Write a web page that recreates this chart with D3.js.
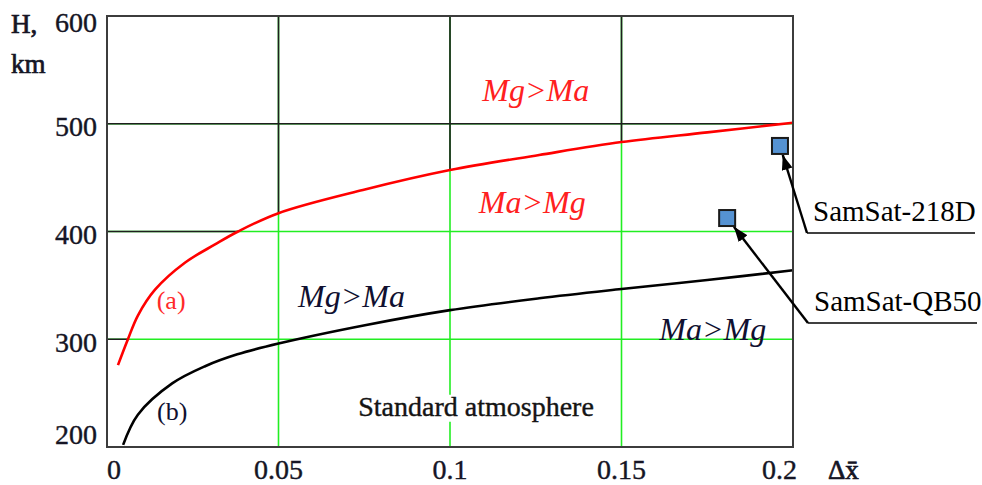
<!DOCTYPE html>
<html>
<head>
<meta charset="utf-8">
<script src="https://cdn.jsdelivr.net/npm/d3@7"></script>
<style>
	body { margin: 0; background: #fff; }
	#chart-area { width: 982px; height: 485px; }
	svg text { font-family: "Liberation Serif", Tinos, "Times New Roman", "DejaVu Serif", serif; }
</style>
</head>
<body>
<div id="chart-area"></div>
<script>

// Curve (a): boundary Mg>Ma / Ma>Mg (red)
let curveAX = [0.0032, 0.0061, 0.009, 0.014, 0.0227, 0.0315, 0.0382, 0.05, 0.0746, 0.1, 0.126, 0.15, 0.175, 0.2];
let curveAH = [276, 300, 322, 346, 371, 388, 400, 417, 438.5, 457, 471, 483, 492, 501];

// Curve (b): boundary for standard atmosphere (black)
let curveBX = [0.0047, 0.009, 0.019, 0.0286, 0.038, 0.05, 0.0752, 0.1, 0.126, 0.15, 0.175, 0.2];
let curveBH = [202, 230, 259, 275, 286, 296, 313, 327, 338, 346.6, 355, 364];

// Satellites
let satNames = ["SamSat-218D", "SamSat-QB50"];
let satX = [0.1962, 0.1808];
let satH = [479.4, 412.5];

// Ticks
let xTicks = [0, 0.05, 0.1, 0.15, 0.2];
let xTickLabels = ["0", "0.05", "0.1", "0.15", "0.2"];
let yTicks = [200, 300, 400, 500, 600];
let yTickLabels = ["200", "300", "400", "500", "600"];


class RegimeChart {

constructor(parentElement) {
	this.parentElement = parentElement;
	this.curveA = curveAX.map((x, i) => ({x: x, h: curveAH[i]}));
	this.curveB = curveBX.map((x, i) => ({x: x, h: curveBH[i]}));
	this.sats = satNames.map((n, i) => ({name: n, x: satX[i], h: satH[i]}));
}

	initVis() {
		let vis = this;

		vis.margin = {top: 16, right: 189, bottom: 38, left: 107};
		vis.width = 982 - vis.margin.left - vis.margin.right;
		vis.height = 485 - vis.margin.top - vis.margin.bottom;

		vis.root = d3.select("#" + vis.parentElement).append("svg")
			.attr("width", 982)
			.attr("height", 485)
			.attr("font-family", "Liberation Serif, serif");

		vis.svg = vis.root.append("g")
			.attr("transform", "translate(" + vis.margin.left + "," + vis.margin.top + ")");

		// Scales
		vis.x = d3.scaleLinear()
			.domain([0, 0.2])
			.range([0, vis.width]);

		vis.y = d3.scaleLinear()
			.domain([200, 600])
			.range([vis.height, 0]);

		// arrow head
		vis.root.append("defs").append("marker")
			.attr("id", "arrow")
			.attr("markerUnits", "userSpaceOnUse")
			.attr("markerWidth", 16)
			.attr("markerHeight", 12)
			.attr("refX", 15)
			.attr("refY", 5.5)
			.attr("orient", "auto")
			.append("path")
			.attr("d", "M0,0 L15,5.5 L0,11 Z")
			.attr("fill", "#000");

		vis.updateVis();
	}

	updateVis() {
		let vis = this;

		let gridX = xTicks.slice(1, -1);
		let gridY = yTicks.slice(1, -1);

		let line = d3.line()
			.x(d => vis.x(d.x))
			.y(d => vis.y(d.h))
			.curve(d3.curveCatmullRom.alpha(0.5));

		// clip = area above curve (a), black grid lives there
		let clipPath = "M0,0 L0," + vis.y(vis.curveA[0].h) + " " +
			line(vis.curveA).replace(/^M/, "L") + " L" + vis.width + ",0 Z";

		vis.root.select("defs").append("clipPath")
			.attr("id", "above-a")
			.append("path")
			.attr("d", clipPath);

		let drawGrid = (g, color) => {
			g.selectAll(".vgrid")
				.data(gridX)
				.enter().append("line")
				.attr("class", "vgrid")
				.attr("x1", d => vis.x(d))
				.attr("x2", d => vis.x(d))
				.attr("y1", 0)
				.attr("y2", vis.height)
				.attr("stroke", color)
				.attr("stroke-width", 1.6);
			g.selectAll(".hgrid")
				.data(gridY)
				.enter().append("line")
				.attr("class", "hgrid")
				.attr("x1", 0)
				.attr("x2", vis.width)
				.attr("y1", d => vis.y(d))
				.attr("y2", d => vis.y(d))
				.attr("stroke", color)
				.attr("stroke-width", 1.6);
		};

		drawGrid(vis.svg.append("g").attr("class", "grid-green"), "#22ee22");
		drawGrid(vis.svg.append("g").attr("class", "grid-black").attr("clip-path", "url(#above-a)"), "#1e1e1e");

		// region labels
		let italic = (txt, x, h, color) => vis.svg.append("text")
			.attr("x", vis.x(x))
			.attr("y", vis.y(h))
			.attr("text-anchor", "middle")
			.attr("font-style", "italic")
			.attr("font-size", 32)
			.attr("fill", color)
			.text(txt);

		italic("Mg>Ma", 0.125, 521, "#ff2020");
		italic("Ma>Mg", 0.124, 417, "#ff2020");
		italic("Mg>Ma", 0.0713, 330, "#101030");
		italic("Ma>Mg", 0.1766, 299.5, "#101030");

		// Standard atmosphere label with white box behind
		let std = vis.svg.append("g");
		let stdText = std.append("text")
			.attr("x", vis.x(0.1076))
			.attr("y", vis.y(229))
			.attr("text-anchor", "middle")
			.attr("font-size", 28)
			.attr("fill", "#141414")
			.attr("stroke", "#141414")
			.attr("stroke-width", 0.4)
			.text("Standard atmosphere");
		let bb = stdText.node().getBBox();
		std.insert("rect", "text")
			.attr("x", bb.x)
			.attr("y", bb.y + 4)
			.attr("width", bb.width)
			.attr("height", bb.height - 4)
			.attr("fill", "#fff");

		// Curves
		vis.svg.append("path")
			.datum(vis.curveA)
			.attr("d", line)
			.attr("fill", "none")
			.attr("stroke", "#ff0000")
			.attr("stroke-width", 2.6);

		vis.svg.append("path")
			.datum(vis.curveB)
			.attr("d", line)
			.attr("fill", "none")
			.attr("stroke", "#000")
			.attr("stroke-width", 2.6);

		// curve tags
		vis.svg.append("text")
			.attr("x", vis.x(0.0187))
			.attr("y", vis.y(328))
			.attr("text-anchor", "middle")
			.attr("font-size", 26)
			.attr("fill", "#ff2a2a")
			.text("(a)");

		vis.svg.append("text")
			.attr("x", vis.x(0.019))
			.attr("y", vis.y(225))
			.attr("text-anchor", "middle")
			.attr("font-size", 26)
			.attr("fill", "#101030")
			.text("(b)");

		// Frame
		vis.svg.append("rect")
			.attr("width", vis.width)
			.attr("height", vis.height)
			.attr("fill", "none")
			.attr("stroke", "#3c3c3c")
			.attr("stroke-width", 2);

		// x tick labels (ends kept inside the frame)
		vis.svg.selectAll(".xlab")
			.data(xTicks)
			.enter().append("text")
			.attr("class", "xlab")
			.attr("x", (d, i) => vis.x(d) + (i === xTicks.length - 1 ? 4 : 0))
			.attr("y", vis.height + 32)
			.attr("text-anchor", (d, i) => i === 0 ? "start" : (i === xTicks.length - 1 ? "end" : "middle"))
			.attr("font-size", 28)
			.attr("fill", "#151525")
			.attr("stroke", "#151525")
			.attr("stroke-width", 0.4)
			.text((d, i) => xTickLabels[i]);

		// y tick labels
		vis.svg.selectAll(".ylab")
			.data(yTicks)
			.enter().append("text")
			.attr("class", "ylab")
			.attr("x", -10)
			.attr("y", d => Math.min(Math.max(vis.y(d) + 3, 6), vis.height - 13))
			.attr("dominant-baseline", "central")
			.attr("text-anchor", "end")
			.attr("font-size", 28)
			.attr("fill", "#151525")
			.attr("stroke", "#151525")
			.attr("stroke-width", 0.4)
			.text((d, i) => yTickLabels[i]);

		// axis titles
		let title = (txt, x, y) => vis.root.append("text")
			.attr("x", x)
			.attr("y", y)
			.attr("font-size", 27)
			.attr("fill", "#151525")
			.attr("stroke", "#151525")
			.attr("stroke-width", 0.7)
			.text(txt);

		title("H,", 11, 33);
		title("km", 11, 73);
		title("\u0394x\u0304", 828, 479);

		// Satellites: annotations first, then squares on top
		let half = 8;
		let notes = [
			{tailX: vis.width + 14, tailY: 217, endX: vis.width + 182},
			{tailX: vis.width + 15, tailY: 307, endX: vis.width + 184}
		];

		vis.sats.forEach((s, i) => {
			let cx = vis.x(s.x), cy = vis.y(s.h);
			let n = notes[i];
			let dx = cx - n.tailX, dy = cy - n.tailY;
			let len = Math.sqrt(dx * dx + dy * dy);
			let ux = dx / len, uy = dy / len;
			let t = len - half / Math.max(Math.abs(ux), Math.abs(uy)) - 1;

			vis.svg.append("line")
				.attr("x1", n.tailX)
				.attr("y1", n.tailY)
				.attr("x2", n.tailX + ux * t)
				.attr("y2", n.tailY + uy * t)
				.attr("stroke", "#000")
				.attr("stroke-width", 2.4)
				.attr("marker-end", "url(#arrow)");

			vis.svg.append("line")
				.attr("x1", n.tailX)
				.attr("x2", n.endX)
				.attr("y1", n.tailY)
				.attr("y2", n.tailY)
				.attr("stroke", "#000")
				.attr("stroke-width", 1.5);

			vis.svg.append("text")
				.attr("x", n.tailX + 6)
				.attr("y", n.tailY - 12)
				.attr("font-size", 29)
				.attr("fill", "#000")
				.text(s.name);
		});

		vis.svg.selectAll(".sat")
			.data(vis.sats)
			.enter().append("rect")
			.attr("class", "sat")
			.attr("x", d => vis.x(d.x) - half)
			.attr("y", d => vis.y(d.h) - half)
			.attr("width", half * 2)
			.attr("height", half * 2)
			.attr("fill", "#5592d2")
			.attr("stroke", "#1a1a1a")
			.attr("stroke-width", 2);
	}
}

let chart = new RegimeChart("chart-area");
chart.initVis();

</script>
</body>
</html>
